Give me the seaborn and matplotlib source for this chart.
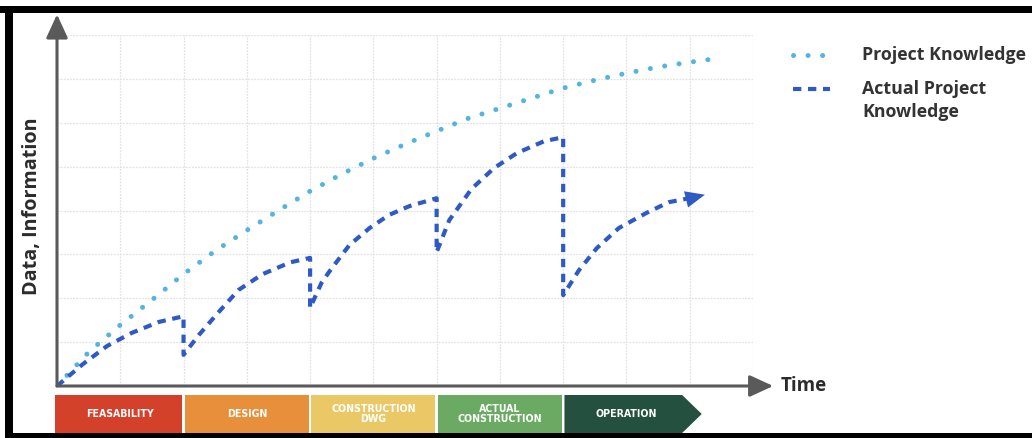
import numpy as np
import pandas as pd
import seaborn as sns
import matplotlib
matplotlib.use("Agg")
import matplotlib.pyplot as plt
from matplotlib.patches import Rectangle, Polygon
from matplotlib.lines import Line2D
from matplotlib.transforms import blended_transform_factory

# ---------------- data ----------------
pk_x = [0, 0.5, 1, 1.5, 2, 2.5, 3, 3.5, 4, 4.5, 5, 5.5, 6, 6.5, 7, 7.5, 8, 8.5, 9, 9.5, 10, 10.3]
pk_y = [0, 0.77, 1.39, 1.96, 2.55, 3.08, 3.55, 4.0, 4.44, 4.83, 5.19, 5.51, 5.81, 6.10, 6.33, 6.56, 6.79, 6.97, 7.13, 7.27, 7.38, 7.44]

apk_x = [0, 0.41, 0.79, 1.18, 1.61, 2.0, 2.0,
         2.24, 2.54, 2.87, 3.25, 3.69, 4.0, 4.0,
         4.18, 4.32, 4.62, 4.94, 5.25, 5.57, 6.0, 6.0,
         6.2, 6.55, 6.91, 7.27, 7.7, 8.0, 8.0,
         8.25, 8.53, 8.88, 9.31, 9.67, 10.1]
apk_y = [0, 0.50, 0.91, 1.21, 1.46, 1.59, 0.71,
         1.16, 1.66, 2.19, 2.55, 2.82, 2.92, 1.78,
         2.35, 2.64, 3.21, 3.60, 3.90, 4.10, 4.28, 3.05,
         3.78, 4.49, 4.97, 5.31, 5.58, 5.67, 2.07,
         2.64, 3.14, 3.60, 3.94, 4.19, 4.31]
apk_tip = (10.24, 4.36)

phases = ["FEASABILITY", "DESIGN", "CONSTRUCTION\nDWG", "ACTUAL\nCONSTRUCTION", "OPERATION"]
phase_start = [0, 2, 4, 6, 8]
phase_colors = ["#D4412B", "#E88F3B", "#EBC866", "#6AAA63", "#24503F"]

series_names = ["Project Knowledge", "Actual Project\nKnowledge"]
x_label = "Time"
y_label = "Data, Information"

# ---------------- style ----------------
sns.set_theme(style="white")
plt.rcParams["font.family"] = ["Open Sans", "DejaVu Sans"]

fig = plt.figure(figsize=(10.32, 4.38), dpi=100)
ax = fig.add_axes([57 / 1032, 52 / 438, 696 / 1032, 351 / 438])

light_blue = "#55B4DF"
dark_blue = "#2F5AC6"
axis_gray = "#5A5A5A"

pk_df = pd.DataFrame({"x": pk_x, "y": pk_y})
apk_df = pd.DataFrame({"x": apk_x, "y": apk_y})

sns.lineplot(data=pk_df, x="x", y="y", ax=ax, color=light_blue, lw=3.6,
             linestyle=(0, (0.01, 2.9)), dash_capstyle="round",
             sort=False, estimator=None, zorder=4)
sns.lineplot(data=apk_df, x="x", y="y", ax=ax, color=dark_blue, lw=3.0,
             linestyle=(0, (2.0, 1.6)), dash_capstyle="butt",
             sort=False, estimator=None, zorder=4)
ax.annotate("", xy=apk_tip, xytext=(apk_x[-1], apk_y[-1]),
            arrowprops=dict(arrowstyle="-|>,head_length=0.7,head_width=0.3",
                            mutation_scale=20, color=dark_blue, lw=0,
                            shrinkA=0, shrinkB=0), zorder=5)

ax.set_xlim(0, 11)
ax.set_ylim(0, 8)
ax.set_xticks(range(0, 12))
ax.set_yticks(range(0, 9))
ax.grid(True, color="#E2E2E2", lw=0.9, linestyle=(0, (1.5, 1)))
ax.tick_params(length=0, labelbottom=False, labelleft=False)
for s in ax.spines.values():
    s.set_visible(False)
ax.set_xlabel("")
ax.set_ylabel("")

# axes arrows
ax.annotate("", xy=(0, 8.47), xytext=(0, 0), annotation_clip=False,
            arrowprops=dict(arrowstyle="-|>,head_length=0.72,head_width=0.33",
                            mutation_scale=20, color=axis_gray, lw=2.2,
                            shrinkA=0, shrinkB=0), zorder=6)
ax.annotate("", xy=(11.32, 0), xytext=(0, 0), annotation_clip=False,
            arrowprops=dict(arrowstyle="-|>,head_length=0.72,head_width=0.33",
                            mutation_scale=20, color=axis_gray, lw=2.2,
                            shrinkA=0, shrinkB=0), zorder=6)

ax.text(11.43, 0, x_label, fontsize=13.5, fontweight="bold", color="#2B2B2B",
        ha="left", va="center", clip_on=False)
fig.text(32 / 1032, 1 - 206 / 438, y_label, fontsize=14.2, fontweight="bold",
         color="#2B2B2B", rotation=90, ha="center", va="center")

# phase bar
tr = blended_transform_factory(ax.transData, fig.transFigure)
y0 = (438 - 433) / 438
y1 = (438 - 395) / 438
gap = 0.02
for i, (name, st, col) in enumerate(zip(phases, phase_start, phase_colors)):
    left = st + (gap if i > 0 else -0.03)
    if i < len(phases) - 1:
        ax.add_patch(Rectangle((left, y0), 2 - gap - (left - st), y1 - y0,
                               transform=tr, facecolor=col, edgecolor="none",
                               clip_on=False))
    else:
        ym = (y0 + y1) / 2
        poly = [(left, y0), (9.88, y0), (10.19, ym), (9.88, y1), (left, y1)]
        ax.add_patch(Polygon(poly, closed=True, transform=tr, facecolor=col,
                             edgecolor="none", clip_on=False))
    ax.text(st + 1, (y0 + y1) / 2, name, transform=tr, ha="center", va="center",
            fontsize=7.6, fontweight="bold", color="white", linespacing=1.0,
            family=["DejaVu Sans"], fontstretch="condensed")

# legend (manual)
lx0, lx1 = 793 / 1032, 830 / 1032
fig.add_artist(Line2D([lx0, lx1], [1 - 55 / 438] * 2, transform=fig.transFigure,
                      color=light_blue, lw=3.6, linestyle=(0, (0.01, 2.9)),
                      dash_capstyle="round"))
fig.add_artist(Line2D([lx0, lx1], [1 - 89 / 438] * 2, transform=fig.transFigure,
                      color=dark_blue, lw=3.0, linestyle=(0, (2.0, 1.6))))
fig.text(862 / 1032, 1 - 55 / 438, series_names[0], fontsize=12.8, fontweight="bold",
         color="#333333", ha="left", va="center")
fig.text(862 / 1032, 1 - 100.5 / 438, series_names[1], fontsize=12.8, fontweight="bold",
         color="#333333", ha="left", va="center", linespacing=1.4)

# frame
fig.add_artist(Rectangle((0, 1 - 13 / 438), 1, 7 / 438, transform=fig.transFigure,
                         facecolor="black", edgecolor="none"))
fig.add_artist(Rectangle((5 / 1032, 0), 8 / 1032, 1 - 6 / 438, transform=fig.transFigure,
                         facecolor="black", edgecolor="none"))
fig.add_artist(Rectangle((5 / 1032, 0), 1 - 5 / 1032, 5 / 438, transform=fig.transFigure,
                         facecolor="black", edgecolor="none"))

fig.savefig("out.png", dpi=100)
